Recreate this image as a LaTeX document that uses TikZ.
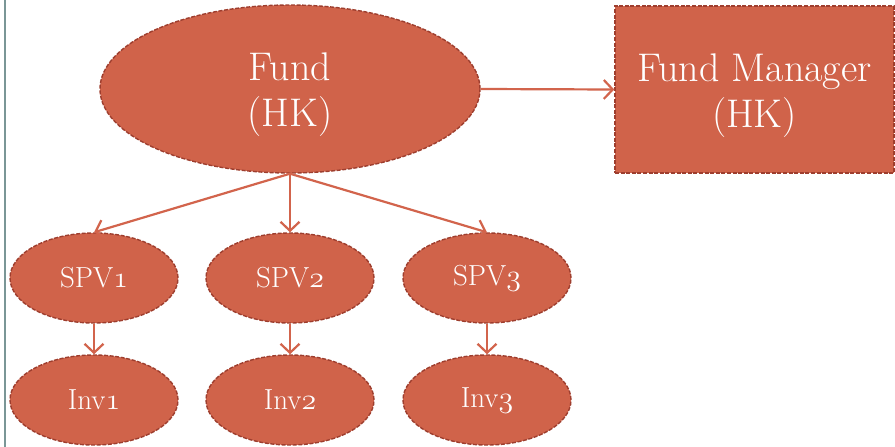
\documentclass[tikz,border=0pt]{standalone}
\usepackage{fontspec}
\usetikzlibrary{shapes.geometric,arrows.meta}

\definecolor{nodefill}{RGB}{208,99,74}
\definecolor{nodeedge}{RGB}{158,62,46}
\definecolor{linkcol}{RGB}{210,100,76}
\definecolor{sidebar}{RGB}{122,150,150}

% old-style figures taken from the math italic font, a little enlarged
\newcommand{\osf}[1]{\scalebox{1.2}{\usefont{OML}{cmm}{m}{it}#1}}

\tikzset{
  base/.style={fill=nodefill, draw=nodeedge, line width=1.4pt,
    dash pattern=on 4pt off 1.6pt, text=white, inner sep=0pt, align=center},
  bigtext/.style={text=white, align=center, font=\fontsize{40}{46}\selectfont},
  bigoval/.style={base, ellipse, minimum width=380pt, minimum height=168pt},
  bigbox/.style={base, rectangle, minimum width=279pt, minimum height=167pt},
  smalloval/.style={base, ellipse, minimum width=168pt, minimum height=90pt,
    font=\fontsize{29}{32}\selectfont},
  link/.style={draw=linkcol, line width=2.2pt,
    -{Straight Barb[length=9pt,width=19pt,line width=2.2pt]}}
}

\begin{document}
\begin{tikzpicture}[x=1pt,y=-1pt]
  \useasboundingbox (0,0) rectangle (895,447);
  \fill[white] (0,0) rectangle (895,447);

  % thin rule along the left edge
  \draw[sidebar, line width=2pt] (5,0) -- (5,447);

  % top level
  \node[bigoval, label={[bigtext, yshift=-6pt]center:Fund\\(HK)}] (fund) at (290,89) {};
  \node[bigbox, label={[bigtext, yshift=-6pt]center:Fund Manager\\(HK)}] (mgr) at (754.5,89.5) {};

  % special purpose vehicles
  \node[smalloval] (spv1) at (94,278)  {SPV\osf{1}};
  \node[smalloval] (spv2) at (290,278) {SPV\osf{2}};
  \node[smalloval] (spv3) at (487,278) {SPV\osf{3}};

  % investments
  \node[smalloval] (inv1) at (94,400)  {Inv\osf{1}};
  \node[smalloval] (inv2) at (290,400) {Inv\osf{2}};
  \node[smalloval] (inv3) at (487,400) {Inv\osf{3}};

  % connectors
  \draw[link] (fund.east) -- (mgr.west);
  \draw[link] (fund.south) -- (spv1.north);
  \draw[link] (fund.south) -- (spv2.north);
  \draw[link] (fund.south) -- (spv3.north);
  \draw[link] (spv1.south) -- (inv1.north);
  \draw[link] (spv2.south) -- (inv2.north);
  \draw[link] (spv3.south) -- (inv3.north);
\end{tikzpicture}
\end{document}
